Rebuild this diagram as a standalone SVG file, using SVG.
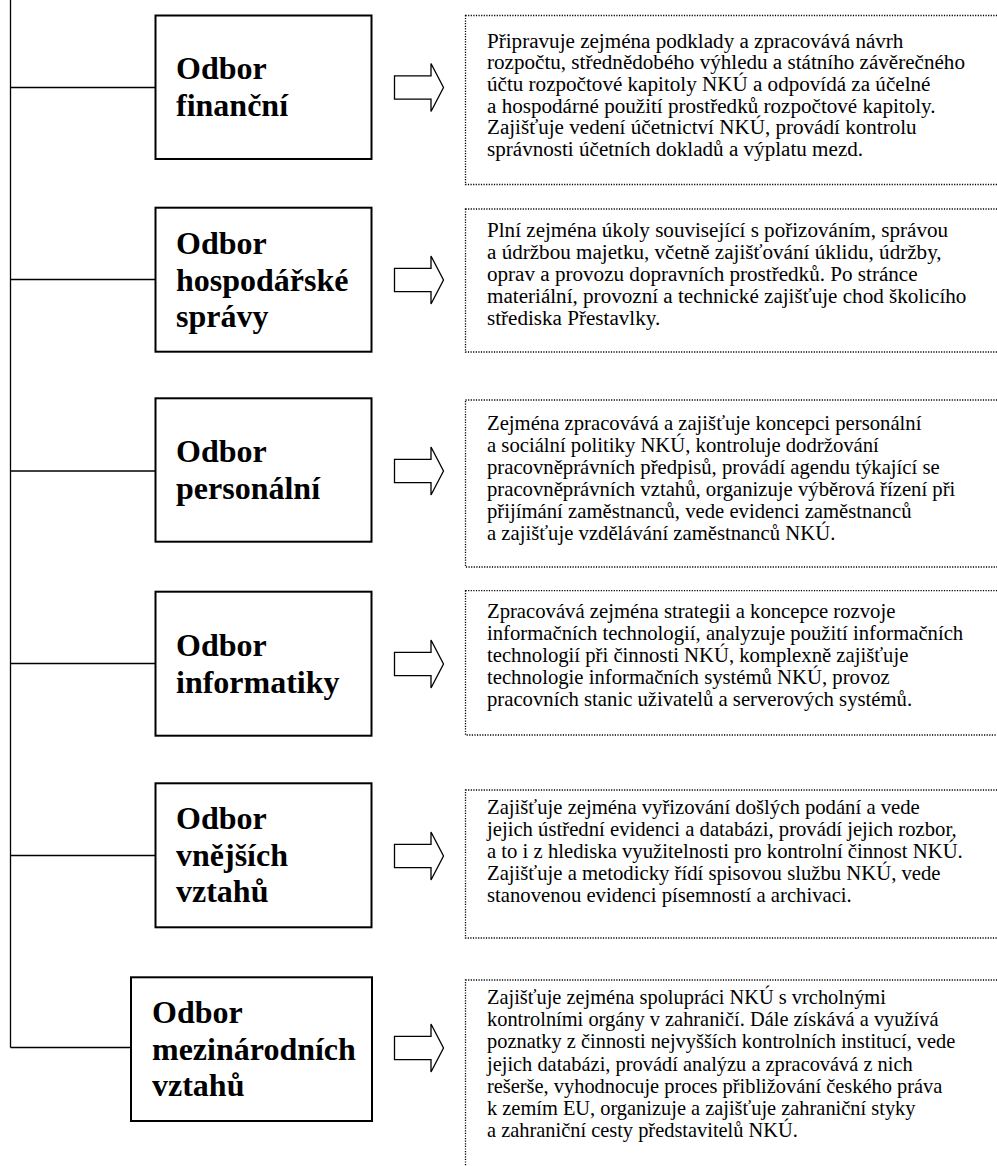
<svg xmlns="http://www.w3.org/2000/svg" width="997" height="1166" viewBox="0 0 997 1166">
<style>
.box{fill:#fff;stroke:#000;stroke-width:2}
.lbl{font-family:"Liberation Serif","Times New Roman",serif;font-weight:bold;font-size:32px;fill:#000}
.desc{fill:#fff;stroke:#000;stroke-width:1.3;stroke-dasharray:1.2 1.4}
.txt{font-family:"Liberation Serif","Times New Roman",serif;font-size:20.7px;fill:#000}
.arr{fill:#fff;stroke:#000;stroke-width:1.3;stroke-linejoin:miter}
.con{fill:none;stroke:#000;stroke-width:1.3}
</style>
<defs>
<polygon id="arrow" class="arr" points="394.5,-11.7 431,-11.7 431,-24 443.5,0 431,24 431,11.7 394.5,11.7"/>
</defs>
<rect width="997" height="1166" fill="#fff"/>
<g id="connectors">
<path class="con" d="M10.5,0 V1047.5"/>
<path class="con" d="M10.5,87.5 H155"/>
<path class="con" d="M10.5,279.5 H155"/>
<path class="con" d="M10.5,471 H155"/>
<path class="con" d="M10.5,663.5 H155"/>
<path class="con" d="M10.5,855.5 H155"/>
<path class="con" d="M10.5,1047.5 H133"/>
<use href="#arrow" y="87.5"/>
<use href="#arrow" y="280"/>
<use href="#arrow" y="471"/>
<use href="#arrow" y="664"/>
<use href="#arrow" y="856"/>
<use href="#arrow" y="1048"/>
</g>
<g id="node-financni">
<rect class="box" x="155.5" y="15.5" width="216" height="143.5"/>
<text class="lbl"><tspan x="176" y="79">Odbor</tspan><tspan x="176" y="115.5">finanční</tspan></text>
</g>
<g id="node-hospodarske">
<rect class="box" x="155.5" y="207.7" width="216" height="144"/>
<text class="lbl"><tspan x="176" y="254">Odbor</tspan><tspan x="176" y="290.5">hospodářské</tspan><tspan x="176" y="327">správy</tspan></text>
</g>
<g id="node-personalni">
<rect class="box" x="155.5" y="398.3" width="216" height="143.4"/>
<text class="lbl"><tspan x="176" y="462">Odbor</tspan><tspan x="176" y="498.5">personální</tspan></text>
</g>
<g id="node-informatiky">
<rect class="box" x="155.5" y="591.7" width="216" height="144"/>
<text class="lbl"><tspan x="176" y="656">Odbor</tspan><tspan x="176" y="692.5">informatiky</tspan></text>
</g>
<g id="node-vnejsich">
<rect class="box" x="155.5" y="783.3" width="216" height="144"/>
<text class="lbl"><tspan x="176" y="829">Odbor</tspan><tspan x="176" y="865.5">vnějších</tspan><tspan x="176" y="902">vztahů</tspan></text>
</g>
<g id="node-mezinarodnich">
<rect class="box" x="131" y="977.3" width="241" height="143.7"/>
<text class="lbl"><tspan x="152" y="1023">Odbor</tspan><tspan x="152" y="1059.5">mezinárodních</tspan><tspan x="152" y="1096">vztahů</tspan></text>
</g>
<g id="desc-financni">
<rect class="desc" x="465.5" y="15.5" width="540" height="169"/>
<text class="txt" style="font-size:21.1px"><tspan x="487" y="47.5">Připravuje zejména podklady a zpracovává návrh</tspan><tspan x="487" y="69.2">rozpočtu, střednědobého výhledu a státního závěrečného</tspan><tspan x="487" y="90.9">účtu rozpočtové kapitoly NKÚ a odpovídá za účelné</tspan><tspan x="487" y="112.6">a hospodárné použití prostředků rozpočtové kapitoly.</tspan><tspan x="487" y="134.3">Zajišťuje vedení účetnictví NKÚ, provádí kontrolu</tspan><tspan x="487" y="156">správnosti účetních dokladů a výplatu mezd.</tspan></text>
</g>
<g id="desc-hospodarske">
<rect class="desc" x="465.5" y="209" width="540" height="143"/>
<text class="txt" style="font-size:21.1px"><tspan x="487" y="237">Plní zejména úkoly související s pořizováním, správou</tspan><tspan x="487" y="259">a údržbou majetku, včetně zajišťování úklidu, údržby,</tspan><tspan x="487" y="281">oprav a provozu dopravních prostředků. Po stránce</tspan><tspan x="487" y="303">materiální, provozní a technické zajišťuje chod školicího</tspan><tspan x="487" y="325">střediska Přestavlky.</tspan></text>
</g>
<g id="desc-personalni">
<rect class="desc" x="465.5" y="400" width="540" height="167"/>
<text class="txt"><tspan x="487" y="430">Zejména zpracovává a zajišťuje koncepci personální</tspan><tspan x="487" y="452">a sociální politiky NKÚ, kontroluje dodržování</tspan><tspan x="487" y="474">pracovněprávních předpisů, provádí agendu týkající se</tspan><tspan x="487" y="496">pracovněprávních vztahů, organizuje výběrová řízení při</tspan><tspan x="487" y="518">přijímání zaměstnanců, vede evidenci zaměstnanců</tspan><tspan x="487" y="540">a zajišťuje vzdělávání zaměstnanců NKÚ.</tspan></text>
</g>
<g id="desc-informatiky">
<rect class="desc" x="465.5" y="590.7" width="540" height="144.3"/>
<text class="txt"><tspan x="487" y="618">Zpracovává zejména strategii a koncepce rozvoje</tspan><tspan x="487" y="640">informačních technologií, analyzuje použití informačních</tspan><tspan x="487" y="662">technologií při činnosti NKÚ, komplexně zajišťuje</tspan><tspan x="487" y="684">technologie informačních systémů NKÚ, provoz</tspan><tspan x="487" y="706">pracovních stanic uživatelů a serverových systémů.</tspan></text>
</g>
<g id="desc-vnejsich">
<rect class="desc" x="465.5" y="790" width="540" height="148"/>
<text class="txt"><tspan x="487" y="814">Zajišťuje zejména vyřizování došlých podání a vede</tspan><tspan x="487" y="836">jejich ústřední evidenci a databázi, provádí jejich rozbor,</tspan><tspan x="487" y="858">a to i z hlediska využitelnosti pro kontrolní činnost NKÚ.</tspan><tspan x="487" y="880">Zajišťuje a metodicky řídí spisovou službu NKÚ, vede</tspan><tspan x="487" y="902">stanovenou evidenci písemností a archivaci.</tspan></text>
</g>
<g id="desc-mezinarodnich">
<rect class="desc" x="465.5" y="980" width="540" height="200"/>
<text class="txt" style="font-size:20.4px"><tspan x="487" y="1004">Zajišťuje zejména spolupráci NKÚ s vrcholnými</tspan><tspan x="487" y="1026.2">kontrolními orgány v zahraničí. Dále získává a využívá</tspan><tspan x="487" y="1048.4">poznatky z činnosti nejvyšších kontrolních institucí, vede</tspan><tspan x="487" y="1070.6">jejich databázi, provádí analýzu a zpracovává z nich</tspan><tspan x="487" y="1092.8">rešerše, vyhodnocuje proces přibližování českého práva</tspan><tspan x="487" y="1115">k zemím EU, organizuje a zajišťuje zahraniční styky</tspan><tspan x="487" y="1137.2">a zahraniční cesty představitelů NKÚ.</tspan></text>
</g>
</svg>
